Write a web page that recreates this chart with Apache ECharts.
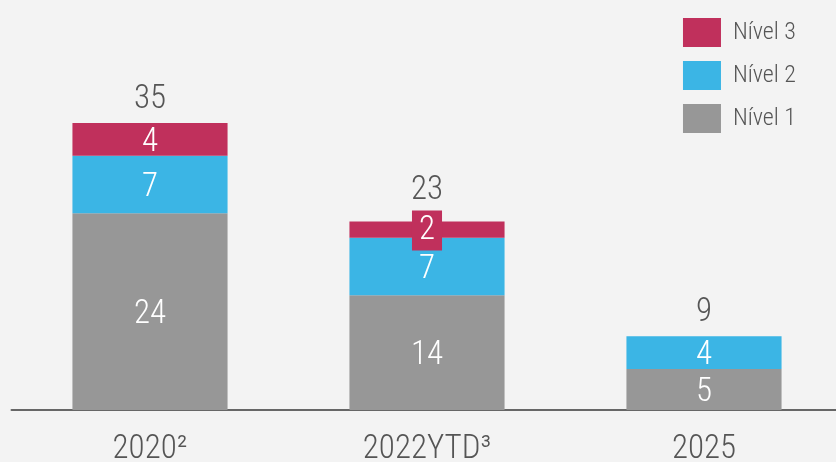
<!DOCTYPE html>
<html><head><meta charset="utf-8">
<script src="https://cdn.jsdelivr.net/npm/echarts@6/dist/echarts.min.js"></script>
<style>html,body{margin:0;padding:0;background:#f3f3f3}#c{width:836px;height:462px}</style>
</head><body><div id="c"></div>
<script>
const categories = ['2020²', '2022YTD³', '2025'];
const nivel1 = [24, 14, 5];
const nivel2 = [7, 7, 4];
const nivel3 = [4, 2, 0];
const totals = [35, 23, 9];

const FONT = "'Roboto Condensed', 'Liberation Sans Narrow', Roboto, sans-serif";
const C1 = '#979797', C2 = '#3bb5e5', C3 = '#c0305c';
const inner = {show: true, position: 'inside', color: '#fff', fontSize: 33, fontWeight: 300, fontFamily: FONT,
  offset: [0, 3], formatter: p => p.value ? String(p.value) : ''};

const chart = echarts.init(document.getElementById('c'));
chart.setOption({
  backgroundColor: '#f3f3f3',
  animation: false,
  grid: {left: 11.5, width: 831, top: 0, bottom: 52, outerBoundsMode: 'none', containLabel: false},
  legend: {
    orient: 'vertical', right: 35, top: 13, itemWidth: 38, itemHeight: 29, itemGap: 14,
    icon: 'rect',
    data: ['Nível 3', 'Nível 2', 'Nível 1'],
    textStyle: {fontSize: 24, fontWeight: 300, color: '#555', fontFamily: FONT, padding: [0, 0, 0, 7]}
  },
  xAxis: {
    type: 'category', data: categories,
    axisLine: {lineStyle: {color: '#666', width: 2}},
    axisTick: {show: false},
    axisLabel: {fontSize: 33, fontWeight: 300, color: '#555', fontFamily: FONT, margin: 23}
  },
  yAxis: {type: 'value', min: 0, max: 50, show: false, splitLine: {show: false}},
  series: [
    {name: 'Nível 1', type: 'bar', stack: 'a', barWidth: '56%', data: nivel1, itemStyle: {color: C1}, label: inner},
    {name: 'Nível 2', type: 'bar', stack: 'a', data: nivel2, itemStyle: {color: C2}, label: inner},
    {name: 'Nível 3', type: 'bar', stack: 'a', itemStyle: {color: C3},
      data: nivel3.map((v, i) => i === 1 ? {value: v, label: {backgroundColor: C3, lineHeight: 32, padding: [4, 7, 4, 7], offset: [0, 1]}} : v),
      label: inner},
    {name: 'total', type: 'bar', stack: 'a', data: totals.map((v, i) => i === 1 ? {value: 0, label: {distance: 14}} : 0),
      itemStyle: {color: 'transparent'},
      label: {show: true, position: 'top', distance: 7, color: '#555', fontSize: 33, fontWeight: 300, fontFamily: FONT,
        formatter: p => String(totals[p.dataIndex])}}
  ]
});
</script></body></html>
